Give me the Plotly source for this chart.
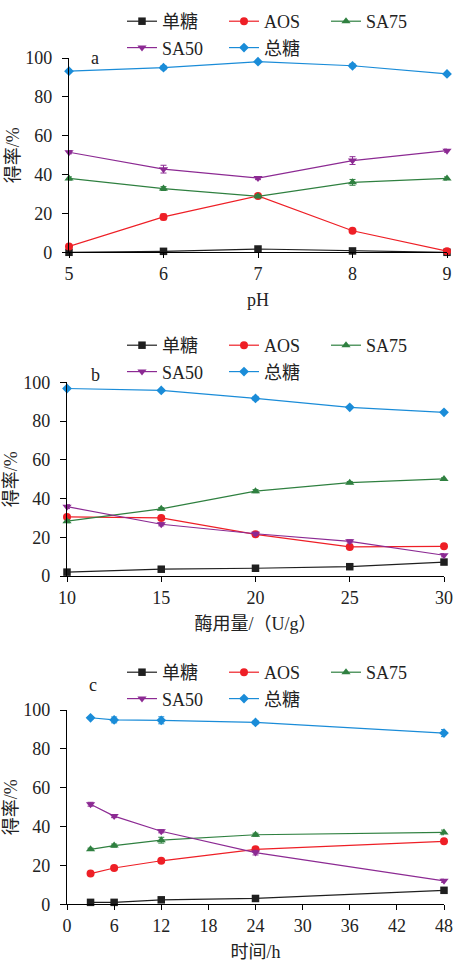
import plotly.graph_objects as go

# ---------------- data ----------------
names = ["单糖", "AOS", "SA75", "SA50", "总糖"]
colors = ["#1f1f1f", "#ee1f26", "#2f8040", "#8c2a93", "#1a8cd8"]
symbols = ["square", "circle", "triangle-up", "triangle-down", "diamond"]

ph = [5, 6, 7, 8, 9]
a_mono = [0, 0.5, 1.7, 0.7, 0]
a_aos = [3.0, 18.2, 29.0, 11.1, 0.6]
a_sa75 = [38.0, 32.8, 28.8, 36.0, 38.0]
a_sa50 = [51.5, 42.8, 38.2, 47.2, 52.3]
a_total = [93.2, 95.0, 98.1, 96.0, 91.8]
a_err = [[0.3, 0.3, 0.3, 0.3, 0.3],
         [0.5, 1.5, 0.8, 0.6, 0.3],
         [0.8, 1.0, 0.8, 1.5, 0.8],
         [0.8, 2.0, 0.8, 2.0, 0.8],
         [0.6, 1.0, 0.5, 1.0, 0.6]]

dose = [10, 15, 20, 25, 30]
b_mono = [2.0, 3.5, 4.0, 4.8, 7.2]
b_aos = [30.5, 30.0, 21.5, 15.0, 15.3]
b_sa75 = [28.3, 34.7, 43.8, 48.2, 50.1]
b_sa50 = [35.8, 26.7, 21.8, 17.9, 10.7]
b_total = [96.8, 95.8, 91.7, 87.1, 84.5]
b_err = [[0.4, 0.4, 0.4, 0.4, 0.6],
         [1.2, 0.8, 0.8, 0.8, 0.6],
         [0.8, 0.6, 0.8, 0.6, 0.6],
         [1.0, 0.8, 0.8, 0.8, 0.8],
         [0.5, 0.5, 1.0, 0.5, 0.5]]

hours = [3, 6, 12, 24, 48]
c_mono = [1.0, 1.0, 2.3, 3.0, 7.2]
c_aos = [15.8, 18.7, 22.4, 28.3, 32.4]
c_sa75 = [28.3, 30.2, 33.0, 35.8, 37.0]
c_sa50 = [51.5, 45.4, 37.6, 26.6, 12.1]
c_total = [96.0, 94.9, 94.7, 93.6, 88.1]
c_err = [[0.4, 0.4, 0.4, 0.4, 0.6],
         [0.6, 0.6, 0.8, 1.0, 0.6],
         [0.6, 0.8, 1.5, 0.8, 1.2],
         [1.0, 0.8, 0.8, 1.2, 0.8],
         [0.5, 1.5, 1.8, 0.8, 1.8]]

xtitles = ["pH", "酶用量/（U/g）", "时间/h"]
ytitle = "得率/%"
panel_labels = ["a", "b", "c"]

# ---------------- figure ----------------
W, H = 454, 963
ML, MR = 60, 4          # margins (limit legend row width so it wraps after 3 items)
GW = W - ML - MR
FONT = "Liberation Serif, Times New Roman, Noto Sans CJK SC, serif"
fig = go.Figure()

panels = [
    (ph, [a_mono, a_aos, a_sa75, a_sa50, a_total], a_err),
    (dose, [b_mono, b_aos, b_sa75, b_sa50, b_total], b_err),
    (hours, [c_mono, c_aos, c_sa75, c_sa50, c_total], c_err),
]
legend_ids = ["legend", "legend2", "legend3"]
msizes = [7.5, 8, 8, 8, 7.5]

for p, (xs, series, errs) in enumerate(panels):
    xa = "x" if p == 0 else f"x{p+1}"
    ya = "y" if p == 0 else f"y{p+1}"
    for i, name in enumerate(names):
        fig.add_trace(go.Scatter(
            x=xs, y=series[i], name=name, mode="lines+markers",
            line=dict(color=colors[i], width=1.2),
            marker=dict(symbol=symbols[i], size=msizes[i], color=colors[i]),
            error_y=dict(type="data", array=errs[i], color=colors[i], thickness=1, width=3),
            xaxis=xa, yaxis=ya, cliponaxis=False,
            legend=legend_ids[p],
        ))

# pixel layout per panel: (x_left, x_right, y_top(100), y_bottom(0))
pix = [(69, 447, 58, 252.3), (67, 444, 382.3, 576), (67, 444, 710, 904.3)]
xranges = [[5, 9], [10, 30], [0, 48]]
xdticks = [1, 5, 6]


def fx(px):
    return (px - ML) / GW


axis_common = dict(showline=True, linecolor="black", linewidth=1.3, ticks="outside",
                   tickwidth=1.2, tickcolor="black", showgrid=False, zeroline=False,
                   automargin=False,
                   tickfont=dict(family=FONT, size=18, color="#222"))

layout = dict(
    template="none",
    width=W, height=H, margin=dict(l=ML, r=MR, t=0, b=0, autoexpand=False),
    paper_bgcolor="white", plot_bgcolor="white",
    font=dict(family=FONT, size=18, color="#222"),
)

for p in range(3):
    xl, xr, yt, yb = pix[p]
    sx = "" if p == 0 else str(p + 1)
    layout[f"xaxis{sx}"] = dict(
        domain=[fx(xl), fx(xr)], anchor=f"y{sx}", range=xranges[p], dtick=xdticks[p],
        ticklen=5,
        title=dict(text=xtitles[p], standoff=10, font=dict(family=FONT, size=18, color="#222")),
        **axis_common)
    layout[f"yaxis{sx}"] = dict(
        domain=[1 - yb / H, 1 - yt / H], anchor=f"x{sx}", range=[0, 100], dtick=20,
        ticklen=6, ticklabelstandoff=6,
        title=dict(text=ytitle, standoff=0, font=dict(family=FONT, size=18, color="#222")),
        **axis_common)
    legend_top = [3, 327, 654][p]
    layout[legend_ids[p]] = dict(
        orientation="h", x=fx(122), xanchor="left", y=1 - legend_top / H, yanchor="top",
        entrywidth=57, entrywidthmode="pixels", bgcolor="rgba(0,0,0,0)", borderwidth=0,
        traceorder="normal",
        font=dict(family=FONT, size=18, color="#222"),
    )

fig.update_layout(**layout)

label_pos = [(95, 58), (95, 375), (93, 685)]
for p in range(3):
    fig.add_annotation(text=panel_labels[p], x=fx(label_pos[p][0]), y=1 - label_pos[p][1] / H,
                       xref="paper", yref="paper", xanchor="center", yanchor="middle",
                       showarrow=False,
                       font=dict(family=FONT, size=18, color="#222"))

fig.write_html("out.html", post_script="document.body.style.margin='0';",
               config={"displayModeBar": False})
